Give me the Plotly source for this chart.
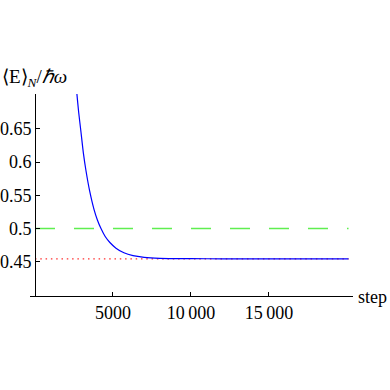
import plotly.graph_objects as go

# Blue curve: values
steps = [2600, 2673, 2800, 2949, 3100, 3269, 3500, 3782, 4000, 4231, 4500, 4800,
         5192, 5700, 6282, 7000, 8000, 9000, 10000, 12000, 14000, 16000, 18000, 20100]
energy = [0.728, 0.706, 0.675, 0.645, 0.614, 0.587, 0.557, 0.529, 0.513, 0.500, 0.488, 0.479,
          0.4705, 0.4635, 0.4592, 0.4567, 0.4552, 0.4548, 0.4546, 0.4545, 0.4545, 0.4545, 0.4545, 0.4545]

# Reference lines
ref_steps = [0, 20100]
green_level = [0.5, 0.5]
red_level = [0.4545, 0.4545]

x_tickvals = [5000, 10000, 15000]
x_ticktext = ["5000", "10\u2009000", "15\u2009000"]
y_tickvals = [0.45, 0.5, 0.55, 0.6, 0.65]
y_ticktext = ["0.45", "0.5", "0.55", "0.6", "0.65"]

font_family = "Liberation Serif"

fig = go.Figure()
fig.add_trace(go.Scatter(x=ref_steps, y=green_level, mode="lines",
                         line=dict(color="#5fee50", width=1.5, dash="20px,19px"),
                         hoverinfo="skip"))
fig.add_trace(go.Scatter(x=ref_steps, y=red_level, mode="lines",
                         line=dict(color="#ff3030", width=1.3, dash="1.5px,3.8px"),
                         hoverinfo="skip"))
fig.add_trace(go.Scatter(x=steps, y=energy, mode="lines",
                         line=dict(color="#0000ff", width=1.2, shape="spline", smoothing=0.6),
                         hoverinfo="skip"))

fig.update_layout(
    width=390, height=390,
    margin=dict(l=30, r=37, t=94, b=94, autoexpand=False),
    paper_bgcolor="white", plot_bgcolor="white",
    showlegend=False,
    font=dict(family=font_family, size=18, color="black"),
    xaxis=dict(range=[-320, 20385], showgrid=False, zeroline=False, automargin=False,
               showline=True, linecolor="black", linewidth=1,
               ticks="inside", ticklen=4, tickcolor="black", tickwidth=1,
               tickvals=x_tickvals, ticktext=x_ticktext,
               tickfont=dict(family=font_family, size=18)),
    yaxis=dict(range=[0.3985, 0.7025], showgrid=False, zeroline=False, automargin=False,
               showline=True, linecolor="black", linewidth=1,
               anchor="free", position=5 / 323,
               ticks="inside", ticklen=4, tickcolor="black", tickwidth=1,
               tickvals=y_tickvals, ticktext=y_ticktext,
               tickfont=dict(family=font_family, size=18)),
    annotations=[
        dict(text="\u27e8E\u27e9<sub><i>N</i></sub>/<i>\u210f\u03c9</i>",
             xref="paper", yref="paper", x=-30 / 323, y=1.0,
             xanchor="left", yanchor="bottom", yshift=2, showarrow=False,
             font=dict(family=font_family, size=19)),
        dict(text="step", xref="paper", yref="paper", x=1.0, y=0.0,
             xanchor="left", yanchor="middle", xshift=3, yshift=-1, showarrow=False,
             font=dict(family=font_family, size=18)),
    ],
)

fig.write_html("out.html", config={"displayModeBar": False},
               post_script="document.body.style.margin='0';")
